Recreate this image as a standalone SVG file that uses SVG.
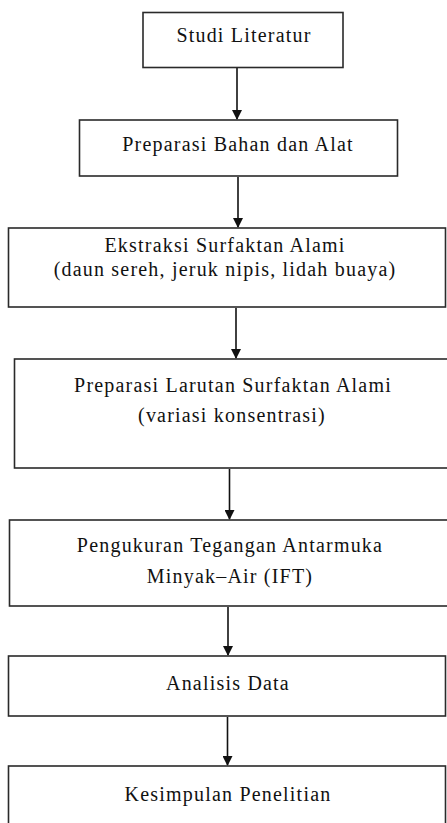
<svg xmlns="http://www.w3.org/2000/svg" width="447" height="823" viewBox="0 0 447 823">
<style>
.box{fill:#fff;stroke:#2a2a2a;stroke-width:1.6}
.t{font-family:'Liberation Serif','Times New Roman',Times,serif;font-size:20px;fill:#111;text-anchor:middle;letter-spacing:1.2px}
.c{stroke:#111;stroke-width:1.6;fill:none}
</style>
<defs>
<marker id="ah" markerWidth="10" markerHeight="10" refX="9" refY="5" orient="auto" markerUnits="userSpaceOnUse">
<path d="M0,0 L10,5 L0,10 Z" fill="#111"/>
</marker>
</defs>
<rect width="447" height="823" fill="#fff"/>
<g id="connectors">
<line class="c" x1="237" y1="68" x2="237" y2="119" marker-end="url(#ah)"/>
<line class="c" x1="238" y1="177" x2="238" y2="227" marker-end="url(#ah)"/>
<line class="c" x1="236" y1="308" x2="236" y2="358" marker-end="url(#ah)"/>
<line class="c" x1="229.5" y1="469" x2="229.5" y2="519" marker-end="url(#ah)"/>
<line class="c" x1="228" y1="607" x2="228" y2="655" marker-end="url(#ah)"/>
<line class="c" x1="227.5" y1="717" x2="227.5" y2="765" marker-end="url(#ah)"/>
</g>
<g id="n1">
<rect class="box" x="143" y="12.5" width="200" height="55"/>
<text class="t" x="244" y="42">Studi Literatur</text>
</g>
<g id="n2">
<rect class="box" x="79.5" y="120" width="318" height="56"/>
<text class="t" x="238" y="151">Preparasi Bahan dan Alat</text>
</g>
<g id="n3">
<rect class="box" x="8.5" y="228" width="437" height="79"/>
<text class="t" x="225" y="252">Ekstraksi Surfaktan Alami</text>
<text class="t" x="225" y="276">(daun sereh, jeruk nipis, lidah buaya)</text>
</g>
<g id="n4">
<rect class="box" x="14.5" y="359" width="440" height="109"/>
<text class="t" x="233" y="392">Preparasi Larutan Surfaktan Alami</text>
<text class="t" x="232" y="422">(variasi konsentrasi)</text>
</g>
<g id="n5">
<rect class="box" x="9.5" y="520" width="445" height="86"/>
<text class="t" x="230" y="552">Pengukuran Tegangan Antarmuka</text>
<text class="t" x="230" y="583">Minyak–Air (IFT)</text>
</g>
<g id="n6">
<rect class="box" x="8.5" y="656" width="437" height="60"/>
<text class="t" x="228" y="690">Analisis Data</text>
</g>
<g id="n7">
<rect class="box" x="8.5" y="766" width="437" height="70"/>
<text class="t" x="228" y="801">Kesimpulan Penelitian</text>
</g>
</svg>
